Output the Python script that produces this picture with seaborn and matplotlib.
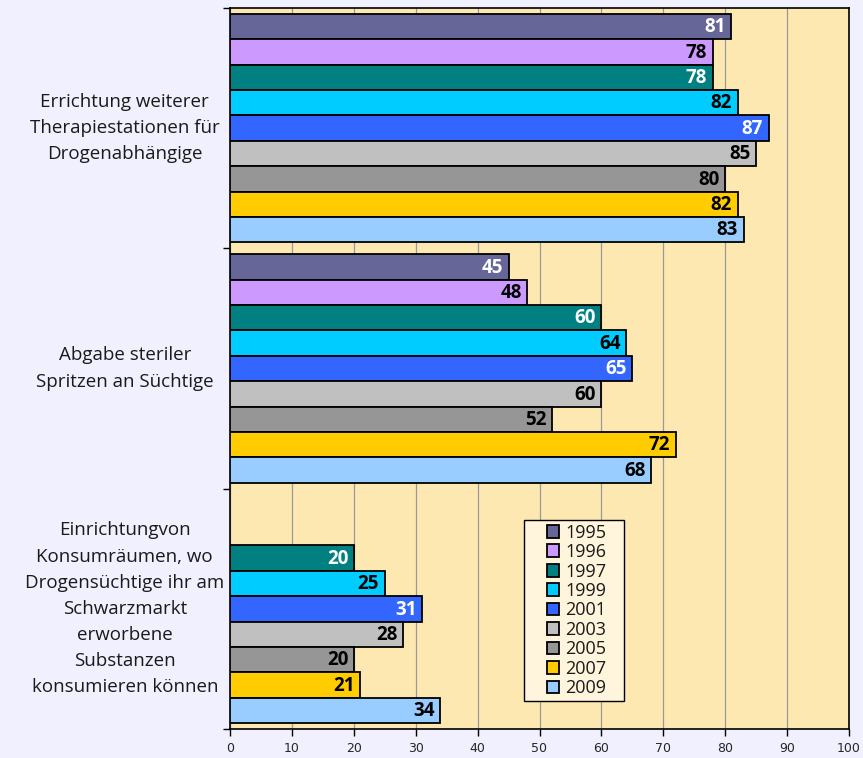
import matplotlib
matplotlib.use("Agg")
import matplotlib.pyplot as plt
import seaborn as sns
import pandas as pd
import numpy as np

categories = [
    "Errichtung weiterer\nTherapiestationen für\nDrogenabhängige",
    "Abgabe steriler\nSpritzen an Süchtige",
    "Einrichtungvon\nKonsumräumen, wo\nDrogensüchtige ihr am\nSchwarzmarkt\nerworbene\nSubstanzen\nkonsumieren können",
]
years = ["1995", "1996", "1997", "1999", "2001", "2003", "2005", "2007", "2009"]
vals_therapie = [81, 78, 78, 82, 87, 85, 80, 82, 83]
vals_spritzen = [45, 48, 60, 64, 65, 60, 52, 72, 68]
vals_konsum = [None, None, 20, 25, 31, 28, 20, 21, 34]
colors = ["#666699", "#CC99FF", "#008080", "#00CCFF", "#3366FF",
          "#C0C0C0", "#969696", "#FFCC00", "#99CCFF"]
label_colors = ["white", "black", "white", "black", "white",
                "black", "black", "black", "black"]
xticks = list(range(0, 101, 10))

rows = []
for cat, vals in zip(categories, [vals_therapie, vals_spritzen, vals_konsum]):
    for y, v in zip(years, vals):
        if v is not None:
            rows.append({"cat": cat, "year": y, "value": v})
df = pd.DataFrame(rows)

sns.set_style("white")
plt.rcParams["font.family"] = ["Open Sans", "DejaVu Sans"]

fig = plt.figure(figsize=(8.63, 7.58), dpi=100)
fig.patch.set_facecolor("#F0F0FF")
ax = fig.add_axes([230/863, 1-729/758, 619/863, 721/758])
ax.set_facecolor("#FDE8B2")

sns.barplot(data=df, y="cat", x="value", hue="year", order=categories,
            hue_order=years, palette=colors, orient="h", width=0.95,
            edgecolor="black", linewidth=1.3, saturation=1, ax=ax,
            errorbar=None, zorder=3)

for cont, lc in zip(ax.containers, label_colors):
    for p in cont.patches:
        w = p.get_width()
        if np.isnan(w):
            continue
        ax.annotate(f"{w:.0f}", xy=(p.get_x() + w, p.get_y() + p.get_height() / 2),
                    xytext=(-4, -0.5), textcoords="offset points", ha="right",
                    va="center", fontsize=13.5, fontweight="bold", color=lc,
                    zorder=5)

ax.set_xlim(0, 100)
ax.set_ylim(2.5, -0.5)
ax.set_xticks(xticks)
ax.set_xticklabels([str(t) for t in xticks],
                   fontfamily=["Liberation Sans Narrow", "DejaVu Sans"], fontsize=9)
ax.tick_params(axis="x", length=5, width=1, direction="out", color="black", pad=4,
               bottom=True)
ax.grid(axis="x", color="#999999", linewidth=0.9, zorder=0)
ax.set_axisbelow(True)

ax.set_yticks([0, 1, 2])
ax.set_yticklabels([])
ax.tick_params(axis="y", which="major", length=0, left=False)
ax.set_yticks([-0.5, 0.5, 1.5, 2.5], minor=True)
ax.tick_params(axis="y", which="minor", length=5, width=1, left=True, color="black")
ax.set_xlabel("")
ax.set_ylabel("")

for i, cat in enumerate(categories):
    ax.text(-0.17, i, cat, transform=ax.get_yaxis_transform(), ha="center",
            va="center", fontsize=13.5, linespacing=1.58, color="#1a1a1a")

for s in ax.spines.values():
    s.set_visible(True)
    s.set_color("black")
    s.set_linewidth(1.2)

ax.get_legend().remove()
box = plt.Rectangle((0.475, 0.039), 0.162, 0.251, transform=ax.transAxes,
                    facecolor="#FFF4DC", edgecolor="black", linewidth=1.0, zorder=6)
ax.add_patch(box)
handles = [plt.Rectangle((0, 0), 1, 1, facecolor=c, edgecolor="black", linewidth=1.3)
           for c in colors]
leg = ax.legend(handles, years, loc="center", bbox_to_anchor=(0.475 + 0.081 + 0.004, 0.039 + 0.1255),
                frameon=False, fontsize=13, handlelength=0.7, handleheight=0.7,
                labelspacing=0.08, handletextpad=0.35, borderpad=0,
                borderaxespad=0)
leg.set_zorder(7)
for t in leg.get_texts():
    t.set_color("#1a1a1a")

fig.savefig("out.png", dpi=100, facecolor=fig.get_facecolor())
